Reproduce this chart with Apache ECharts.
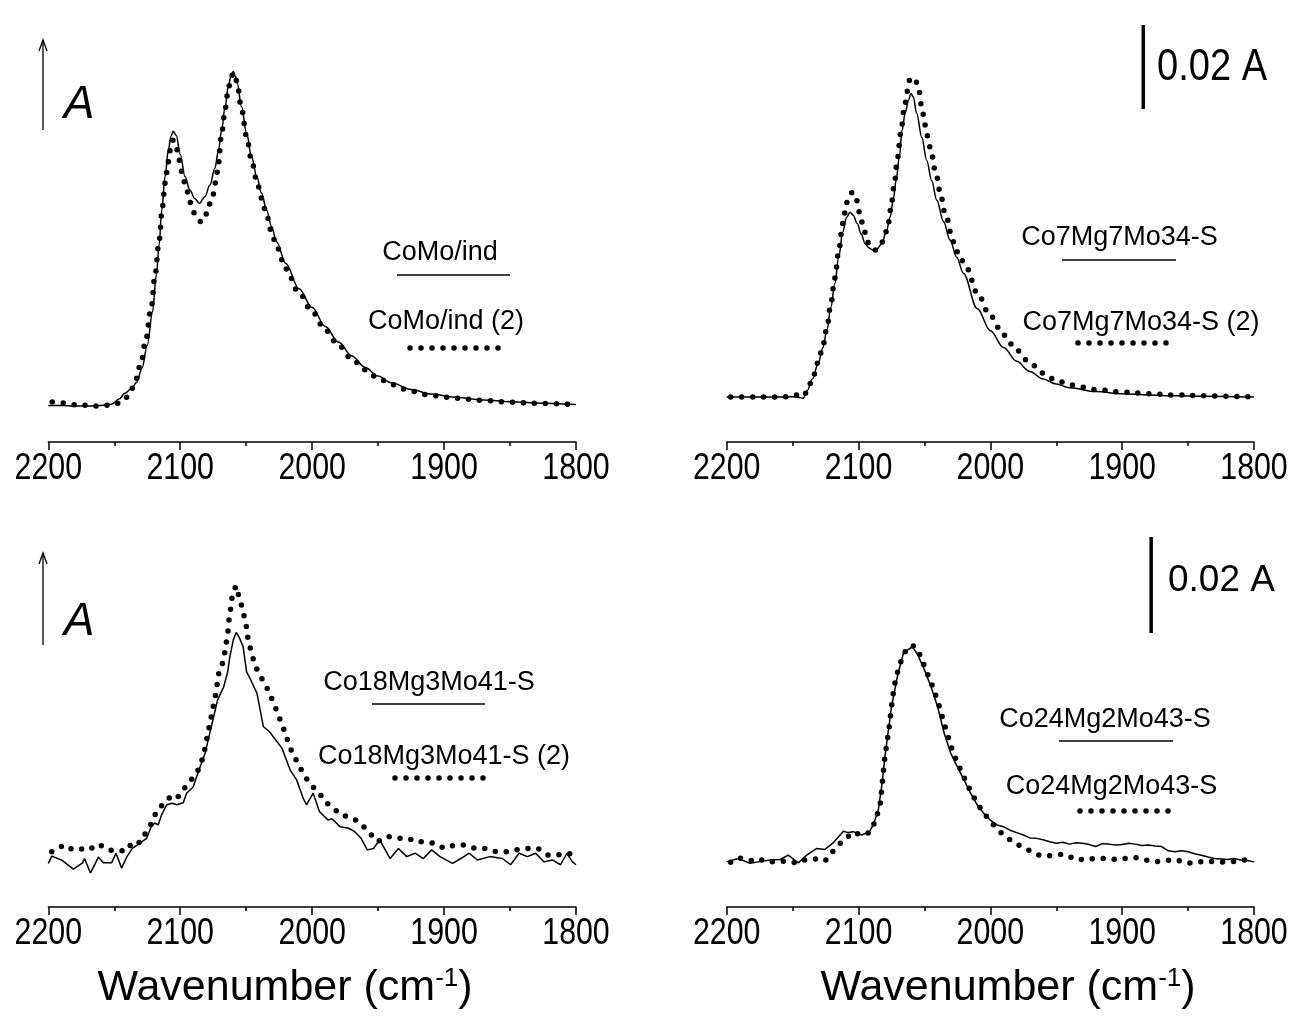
<!DOCTYPE html>
<html>
<head>
<meta charset="utf-8">
<script src="https://cdn.jsdelivr.net/npm/echarts@6/dist/echarts.min.js"></script>
<style>
  html, body { margin: 0; padding: 0; background: #fff; }
  #chart { width: 1292px; height: 1021px; }
</style>
</head>
<body>
<div id="chart"></div>
<script>
// Wavenumber axis (cm-1), drawn high -> low
const wnMin = 1800;
const wnMax = 2200;
const wnStep = 100;
const wnTickLabels = ['2200', '2100', '2000', '1900', '1800'];

// Absorbance span of the scale bar
const scaleBarA = 0.02;

// Sample names
const namesSolid = ['CoMo/ind', 'Co7Mg7Mo34-S', 'Co18Mg3Mo41-S', 'Co24Mg2Mo43-S'];
const namesDotted = ['CoMo/ind (2)', 'Co7Mg7Mo34-S (2)', 'Co18Mg3Mo41-S (2)', 'Co24Mg2Mo43-S'];

// CoMo/ind : [wavenumber, absorbance]
const comoSolid = [
  [2200,.0087],[2190,.0087],[2180,.0086],[2170,.0086],[2160,.0087],[2152,.0090],[2146,.0103],
  [2142,.0116],[2137,.0127],[2133,.0142],[2129,.0175],[2125,.0230],[2121,.0310],[2118,.0400],
  [2116,.0470],[2114,.0552],[2111.5,.0632],[2109,.0695],[2107,.0728],[2105.3,.0740],[2103,.0730],
  [2100,.0685],[2096.4,.0632],[2092.7,.0600],[2089,.0580],[2085.6,.0568],[2081.3,.0584],
  [2077.5,.0612],[2073.7,.0652],[2071,.0695],[2068.6,.0743],[2066,.0798],[2063.6,.0846],
  [2061.5,.0872],[2059.8,.0882],[2058,.0870],[2056.8,.0854],[2053.5,.0798],[2049.7,.0735],
  [2045.9,.0679],[2042,.0632],[2038.3,.0592],[2034.5,.0552],[2030.8,.0513],[2027,.0477],
  [2020,.0425],[2010,.0365],[2000,.0320],[1990,.0275],[1980,.0238],[1970,.0205],[1960,.0178],
  [1950,.0157],[1940,.0141],[1925,.0125],[1910,.0114],[1890,.0106],[1870,.0100],[1850,.0096],
  [1830,.0093],[1800,.0089]
];
const comoDotted = [
  [2197,.0095],[2190,.0093],[2183,.0089],[2175,.0088],[2168,.0086],[2160,.0086],[2153,.0088],
  [2147,.0092],[2142,.0102],[2138,.0118],[2134,.0145],[2130,.0185],[2126,.0245],[2122,.0320],
  [2119,.0400],[2116,.0480],[2113.5,.0560],[2111.5,.0616],[2109,.0667],[2107,.0705],[2105.3,.0719],
  [2103,.0700],[2100.7,.0671],[2098.9,.0644],[2096.4,.0616],[2093.9,.0592],[2091.9,.0567],
  [2088.9,.0543],[2086,.0528],[2083.8,.0523],[2080,.0543],[2077.5,.0567],[2075,.0590],[2073,.0620],
  [2071.2,.0660],[2068.6,.0735],[2066,.0792],[2063.6,.0840],[2061.5,.0868],[2059.8,.0879],
  [2058,.0868],[2056.8,.0850],[2053.5,.0792],[2049.7,.0727],[2045.9,.0670],[2042,.0622],
  [2038.3,.0580],[2034.5,.0540],[2030.8,.0500],[2027,.0465],[2020,.0412],[2010,.0355],[2000,.0310],
  [1990,.0266],[1980,.0230],[1970,.0198],[1960,.0172],[1950,.0152],[1940,.0137],[1925,.0121],
  [1910,.0111],[1890,.0104],[1870,.0099],[1850,.0095],[1830,.0092],[1800,.0089]
];

// Co7Mg7Mo34-S
const co7Solid = [
  [2200,.0107],[2180,.0107],[2160,.0107],[2150,.0108],[2145,.0106],[2142,.0104],[2139,.0122],
  [2135,.0150],[2130.6,.0187],[2127,.0225],[2124,.0266],[2121,.0320],[2118,.0377],[2115,.0440],
  [2112,.0500],[2109,.0535],[2106.5,.0547],[2104,.0540],[2101,.0520],[2098,.0495],[2095,.0472],
  [2092,.0462],[2089.3,.0457],[2086,.0460],[2082.4,.0472],[2079,.0500],[2076,.0536],[2073.5,.0580],
  [2071.5,.0623],[2069,.0680],[2067,.0742],[2064.5,.0785],[2062,.0815],[2060.2,.0830],[2058.5,.0822],
  [2055.9,.0783],[2052,.0725],[2048.3,.0671],[2044.5,.0622],[2040.7,.0576],[2035.5,.0525],
  [2030.6,.0481],[2025.5,.0440],[2020.5,.0402],[2010,.0318],[2000,.0265],[1990,.0225],[1980,.0192],
  [1970,.0168],[1960,.0150],[1950,.0138],[1940,.0129],[1920,.0120],[1900,.0115],[1880,.0112],
  [1860,.0110],[1840,.0109],[1800,.0107]
];
const co7Dotted = [
  [2197,.0107],[2185,.0107],[2170,.0107],[2158,.0107],[2147,.0112],[2142,.0108],[2139,.0120],
  [2135,.0150],[2130.6,.0190],[2127,.0230],[2124,.0272],[2121,.0330],[2118,.0390],[2115,.0455],
  [2112,.0520],[2109,.0570],[2106,.0592],[2104.4,.0595],[2102,.0580],[2099,.0545],[2096,.0505],
  [2093,.0475],[2090,.0460],[2087,.0457],[2084,.0465],[2081,.0480],[2078,.0510],[2075.5,.0555],
  [2073,.0610],[2070.5,.0675],[2068,.0735],[2065.5,.0790],[2063,.0835],[2061,.0864],[2059,.0868],
  [2056.5,.0858],[2054.7,.0846],[2052,.0798],[2049.6,.0755],[2045.8,.0703],[2041,.0636],
  [2038,.0593],[2034.4,.0545],[2028,.0477],[2023,.0438],[2018,.0414],[2010,.0355],[2000,.0300],
  [1990,.0255],[1980,.0218],[1970,.0188],[1960,.0164],[1950,.0147],[1940,.0136],[1920,.0125],
  [1900,.0119],[1880,.0115],[1860,.0112],[1840,.0110],[1800,.0107]
];

// Co18Mg3Mo41-S
const co18Solid = [
  [2200,.0091],[2197.4,.0106],[2190,.0098],[2181,.0079],[2174,.0092],[2172.6,.0101],[2168,.0071],
  [2162,.0104],[2158.3,.0092],[2152,.0092],[2148.7,.0112],[2144.4,.0081],[2140.6,.0104],
  [2136.3,.0122],[2130.5,.0133],[2125.5,.0143],[2122,.0167],[2119.2,.0175],[2116.7,.0171],
  [2114.1,.0192],[2110.3,.0213],[2106,.0216],[2102.7,.0213],[2097.7,.0217],[2095.2,.0237],
  [2090.2,.0250],[2085.9,.0285],[2081.2,.0320],[2076.4,.0376],[2071.7,.0431],[2067,.0459],
  [2064,.0490],[2062.4,.0521],[2059.8,.0556],[2057.5,.0572],[2055,.0560],[2052.3,.0542],
  [2049.7,.0490],[2046.5,.0473],[2041.8,.0445],[2037,.0376],[2032.3,.0365],[2027.6,.0348],
  [2022.9,.0331],[2016.6,.0285],[2011.8,.0265],[2007,.0228],[2004.3,.0213],[1999.2,.0237],
  [1994.5,.0199],[1987.9,.0181],[1985,.0184],[1978.7,.0167],[1972.4,.0164],[1967.7,.0157],
  [1962.9,.0143],[1958.2,.0119],[1953.5,.0122],[1948.8,.0140],[1940.9,.0101],[1934.6,.0122],
  [1928.3,.0105],[1922,.0112],[1915.7,.0101],[1909.4,.0119],[1903.1,.0105],[1893.6,.0091],
  [1887.3,.0101],[1881,.0112],[1874.7,.0098],[1865.3,.0105],[1855.8,.0101],[1849.5,.0088],
  [1843.2,.0112],[1836.9,.0105],[1830.6,.0112],[1824.3,.0094],[1818,.0098],[1811.7,.0088],
  [1806.9,.0112],[1803,.0095],[1800,.0088]
];
const co18Dotted = [
  [2197.4,.0115],[2191.7,.0124],[2187.3,.0129],[2181.5,.0119],[2175.5,.0120],[2170.5,.0126],
  [2164.1,.0120],[2160.1,.0128],[2155,.0119],[2147,.0117],[2140.6,.0117],[2136.1,.0136],
  [2130.5,.0134],[2126.7,.0152],[2120.5,.0180],[2118.4,.0197],[2111.6,.0219],[2105.3,.0235],
  [2101.5,.0230],[2097,.0247],[2092.7,.0261],[2088,.0278],[2085,.0292],[2082,.0320],[2079,.0362],
  [2076,.0403],[2073,.0445],[2070.4,.0494],[2067.4,.0511],[2066,.0535],[2064.8,.0556],
  [2063.6,.0579],[2062.9,.0602],[2061.6,.0625],[2060.6,.0648],[2057.8,.0669],[2053.5,.0628],
  [2051.5,.0605],[2049.7,.0582],[2048.7,.0560],[2046.7,.0537],[2044.7,.0517],[2041.7,.0494],
  [2039,.0480],[2033,.0450],[2027,.0410],[2021.3,.0369],[2016.6,.0331],[2011,.0300],
  [2005.5,.0272],[2000.5,.0254],[1997.6,.0244],[1994.7,.0238],[1990.4,.0219],[1985,.0209],
  [1978.7,.0192],[1972.4,.0188],[1964.5,.0178],[1955.1,.0150],[1950.4,.0136],[1942.5,.0147],
  [1934.6,.0143],[1926.7,.0143],[1922,.0136],[1915.7,.0136],[1907.8,.0133],[1899.9,.0122],
  [1892.1,.0129],[1884.2,.0129],[1876.3,.0122],[1868.4,.0122],[1860.5,.0115],[1852.7,.0115],
  [1844.8,.0119],[1836.9,.0122],[1829,.0122],[1821.1,.0108],[1814.8,.0108],[1805.4,.0112],
  [1800,.0105]
];

// Co24Mg2Mo43-S
const co24Solid = [
  [2200,.0094],[2198.8,.0096],[2191.2,.0101],[2182.3,.0091],[2176,.0094],[2167.2,.0098],
  [2159.6,.0099],[2153.3,.0108],[2145.7,.0092],[2139.3,.0108],[2131.7,.0122],[2125.4,.0120],
  [2119.1,.0134],[2111.5,.0158],[2107.8,.0155],[2104,.0157],[2097.6,.0150],[2091.8,.0157],
  [2088.8,.0171],[2085,.0202],[2082,.0260],[2080,.0313],[2075,.0417],[2070,.0487],[2066,.0528],
  [2062,.0537],[2059,.0542],[2055,.0525],[2050,.0494],[2045,.0459],[2040,.0417],[2035,.0362],
  [2030,.0320],[2025,.0292],[2020,.0265],[2015,.0237],[2010,.0213],[2005,.0195],[2000,.0181],
  [1995,.0171],[1990,.0167],[1985,.0160],[1980,.0155],[1975,.0150],[1970,.0144],[1965,.0143],
  [1960,.0140],[1955,.0136],[1950,.0133],[1945,.0135],[1940,.0131],[1935,.0134],[1930,.0133],
  [1925,.0130],[1920,.0126],[1915,.0132],[1910,.0131],[1905,.0129],[1900,.0130],[1895,.0133],
  [1890,.0131],[1885,.0128],[1880,.0129],[1875,.0127],[1870,.0126],[1865,.0117],[1860,.0115],
  [1855,.0117],[1850,.0115],[1845,.0111],[1840,.0108],[1835,.0104],[1830,.0101],[1825,.0100],
  [1820,.0099],[1815,.0101],[1810,.0098],[1805,.0097],[1800,.0094]
];
const co24Dotted = [
  [2197,.0093],[2191,.0102],[2184.8,.0100],[2178.5,.0094],[2172.2,.0099],[2165.9,.0094],
  [2159.6,.0096],[2152.5,.0094],[2145.7,.0092],[2139.8,.0099],[2132.3,.0100],[2125.4,.0096],
  [2120.4,.0113],[2116.6,.0124],[2111.5,.0140],[2108.5,.0145],[2104,.0156],[2098.4,.0150],
  [2091.8,.0155],[2088.8,.0169],[2086.2,.0190],[2083.7,.0209],[2082,.0258],[2080,.0313],
  [2077,.0369],[2075,.0417],[2073,.0459],[2070,.0494],[2067,.0518],[2064,.0535],[2061,.0544],
  [2058,.0544],[2055,.0535],[2052,.0516],[2049,.0494],[2045,.0468],[2040,.0430],[2035,.0382],
  [2030,.0336],[2025,.0300],[2020,.0270],[2015,.0241],[2010,.0216],[2005,.0196],[2000,.0178],
  [1995,.0163],[1990,.0150],[1985,.0140],[1980,.0131],[1975,.0124],[1970,.0117],
  [1963,.0108],[1957,.0106],[1950,.0108],[1945,.0110],[1940,.0105],[1935,.0098],[1930,.0099],
  [1925,.0101],[1920,.0100],[1913,.0101],[1905,.0099],[1897,.0101],[1890,.0103],[1882,.0098],
  [1875,.0094],[1868,.0096],[1860,.0099],[1852,.0092],[1845,.0091],[1838,.0096],[1830,.0094],
  [1823,.0094],[1815,.0095],[1808,.0098],[1803,.0096]
];

const spectraSolid = [comoSolid, co7Solid, co18Solid, co24Solid];
const spectraDotted = [comoDotted, co7Dotted, co18Dotted, co24Dotted];

// Scale bar anchors [wavenumber, absorbance of the lower end], right-hand panels
const scaleBarTop = [1884, 0.0793];
const scaleBarBottom = [1878, 0.0571];

// ---- layout ----
const INK = '#000';
const SANS = '"Liberation Sans", Arial, Helvetica, sans-serif';
const CONDENSE = 0.82;   // horizontal squeeze for the narrow-set numerals

const grids = [
  { left: 48.3, top: 22, width: 527.7, height: 420 },
  { left: 726.7, top: 22, width: 527.3, height: 420 },
  { left: 48.3, top: 523, width: 527.7, height: 384 },
  { left: 726.7, top: 523, width: 527.3, height: 384 }
];
const yRanges = [[0, 0.1], [0, 0.1], [0, 0.08], [0, 0.08]];
const smoothPanel = [true, true, false, false];

const xAxes = grids.map((g, i) => ({
  type: 'value', gridIndex: i, min: wnMin, max: wnMax, interval: wnStep, inverse: true,
  axisLine: { show: true, onZero: false, lineStyle: { color: INK, width: 1.5 } },
  axisTick: { show: true, length: 8, lineStyle: { color: INK, width: 1.5 } },
  minorTick: { show: true, splitNumber: 2, length: 4, lineStyle: { color: INK, width: 1.5 } },
  splitLine: { show: false },
  axisLabel: { show: false }
}));
const yAxes = grids.map((g, i) => ({
  type: 'value', gridIndex: i, min: yRanges[i][0], max: yRanges[i][1], show: false
}));

const series = [];
spectraSolid.forEach((data, i) => {
  series.push({
    type: 'line', name: namesSolid[i], xAxisIndex: i, yAxisIndex: i, data,
    symbol: 'none', smooth: smoothPanel[i] ? 0.35 : false, smoothMonotone: 'x',
    lineStyle: { color: INK, width: 1.5 }, z: 2
  });
});
spectraDotted.forEach((data, i) => {
  series.push({
    type: 'line', name: namesDotted[i], xAxisIndex: i, yAxisIndex: i, data,
    symbol: 'none', smooth: smoothPanel[i] ? 0.35 : false, smoothMonotone: 'x',
    lineStyle: { color: INK, width: 5.5, type: [0, 11], cap: 'round' }, z: 3
  });
});
// 0.02 A scale bars
[[1, scaleBarTop], [3, scaleBarBottom]].forEach(([i, p]) => {
  series.push({
    type: 'line', xAxisIndex: i, yAxisIndex: i,
    data: [[p[0], p[1]], [p[0], p[1] + scaleBarA]],
    symbol: 'none', lineStyle: { color: INK, width: 3.5 }, z: 4
  });
});

const chart = echarts.init(document.getElementById('chart'), null, { renderer: 'canvas' });
chart.setOption({
  animation: false,
  backgroundColor: '#fff',
  grid: grids,
  xAxis: xAxes,
  yAxis: yAxes,
  series
});

// ---- annotations ----
const graphic = [];
function text(x, y, str, font, align, scaleX) {
  graphic.push({
    type: 'text', x, y, scaleX: scaleX || 1, silent: true,
    style: { text: str, font, fill: INK, align: align || 'center', verticalAlign: 'middle' }
  });
}
function seg(x1, y1, x2, y2, dotted) {
  graphic.push({
    type: 'line', silent: true,
    shape: { x1, y1, x2, y2 },
    style: dotted
      ? { stroke: INK, lineWidth: 5.5, lineDash: [0, 11], lineCap: 'round' }
      : { stroke: INK, lineWidth: 1.5 }
  });
}
function arrow(x, yTop, yBottom) {
  graphic.push({ type: 'line', silent: true, shape: { x1: x, y1: yBottom, x2: x, y2: yTop },
    style: { stroke: INK, lineWidth: 1.3 } });
  graphic.push({ type: 'polyline', silent: true,
    shape: { points: [[x - 4, yTop + 11], [x, yTop], [x + 4, yTop + 11]] },
    style: { stroke: INK, lineWidth: 1.3, fill: null } });
}

// wavenumber tick labels, placed through each panel's own axis scale
grids.forEach((g, i) => {
  const yBase = chart.convertToPixel({ yAxisIndex: i }, yRanges[i][0]);
  for (let v = wnMin; v <= wnMax; v += wnStep) {
    const x = chart.convertToPixel({ xAxisIndex: i }, v);
    text(x, yBase + 27, wnTickLabels[Math.round((wnMax - v) / wnStep)], '37px ' + SANS, 'center', CONDENSE);
  }
});

const legendFont = '27px ' + SANS;
const legendPos = [
  { t1: [440, 253], l1: [397, 510, 275], t2: [446, 322], l2: [410, 499, 348] },
  { t1: [1119.5, 238], l1: [1062, 1176, 260], t2: [1141, 323], l2: [1078, 1167, 343] },
  { t1: [429, 683], l1: [372, 485, 704], t2: [444, 757], l2: [395, 484, 778] },
  { t1: [1105, 720], l1: [1059, 1173, 741], t2: [1111.5, 787], l2: [1080, 1169, 811] }
];
legendPos.forEach((p, i) => {
  text(p.t1[0], p.t1[1], namesSolid[i], legendFont);
  seg(p.l1[0], p.l1[2], p.l1[1], p.l1[2], false);
  text(p.t2[0], p.t2[1], namesDotted[i], legendFont);
  seg(p.l2[0], p.l2[2], p.l2[1], p.l2[2], true);
});

// absorbance arrows
arrow(43, 40, 130);
text(79, 105, 'A', 'italic 46px ' + SANS);
arrow(43, 553, 645);
text(79, 622, 'A', 'italic 46px ' + SANS);

// scale bar captions
text(1157, 68, '0.02 A', '44px ' + SANS, 'left', 0.865);
text(1168, 581, '0.02 A', '37px ' + SANS, 'left');

// axis titles
[[285, 988], [1008, 988]].forEach(([x, y]) => {
  graphic.push({
    type: 'text', x, y, silent: true,
    style: {
      text: 'Wavenumber (cm{sup|-1})', font: '43px ' + SANS, fill: INK,
      align: 'center', verticalAlign: 'middle',
      rich: { sup: { fontSize: 26, fontFamily: SANS, fill: INK, verticalAlign: 'top', padding: [0, 0, 18, 0] } }
    }
  });
});

chart.setOption({ graphic });
</script>
</body>
</html>
